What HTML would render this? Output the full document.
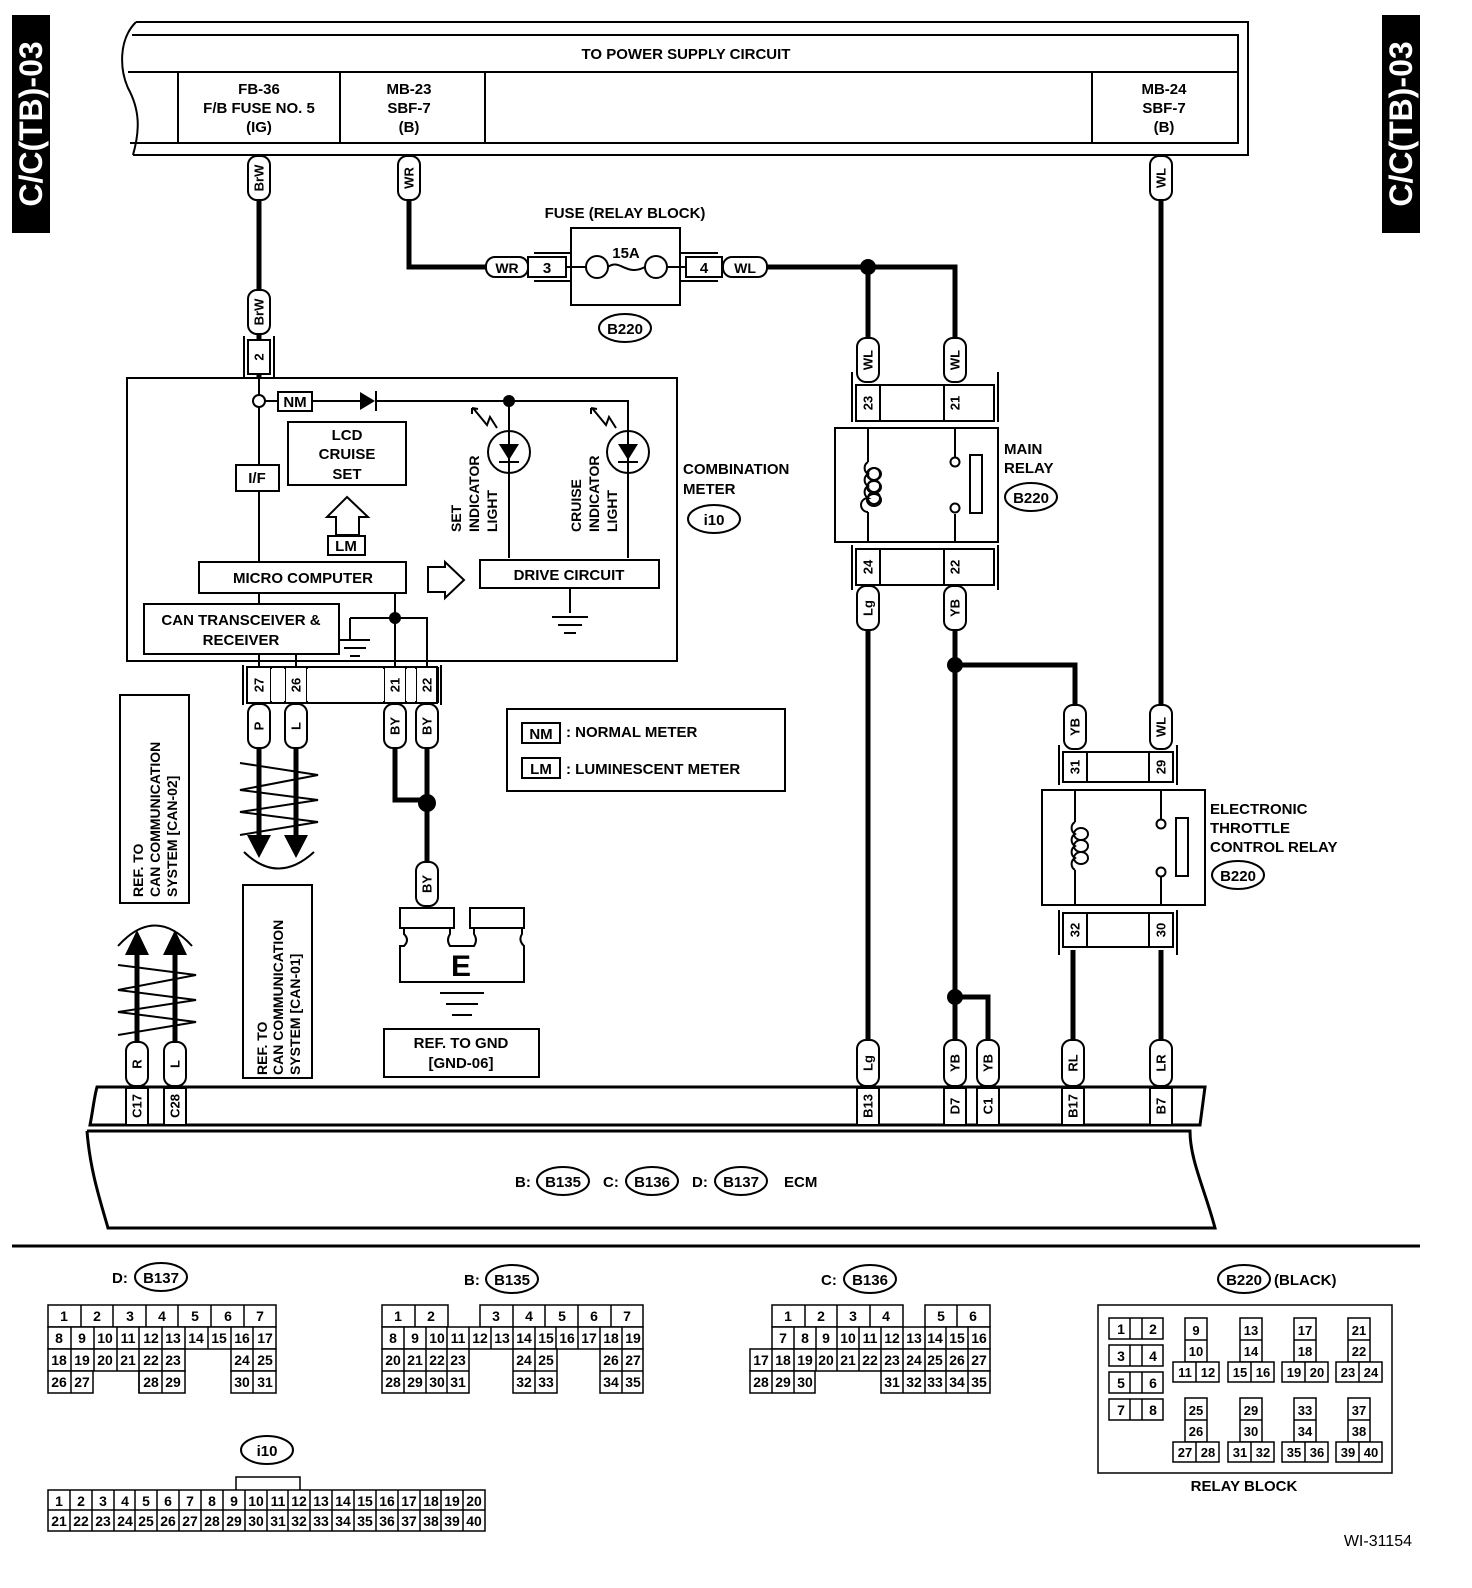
<!DOCTYPE html>
<html><head><meta charset="utf-8"><style>
html,body{margin:0;padding:0;background:#fff}
svg{display:block}
text{font-family:"Liberation Sans",Arial,sans-serif;font-weight:bold;fill:#000}
.t{font-size:15px}
.s{font-size:14px;font-weight:normal}
.w{stroke:#000;stroke-width:5;fill:none}
.n{stroke:#000;stroke-width:2;fill:none}
.p{stroke:#000;stroke-width:2;fill:#fff}
</style></head><body>
<svg width="1472" height="1588" viewBox="0 0 1472 1588" xmlns="http://www.w3.org/2000/svg">
<!-- side tabs -->
<rect x="12" y="15" width="38" height="218" fill="#000"/>
<text transform="translate(31,124) rotate(-90)" text-anchor="middle" dominant-baseline="central" style="font-size:32px;fill:#fff">C/C(TB)-03</text>
<rect x="1382" y="15" width="38" height="218" fill="#000"/>
<text transform="translate(1401,124) rotate(-90)" text-anchor="middle" dominant-baseline="central" style="font-size:32px;fill:#fff">C/C(TB)-03</text>

<!-- top power frame -->
<path class="n" d="M136,22 H1248 V155 H133 M136,22 C118,40 120,70 128,88 C140,110 140,130 133,155"/>
<path class="n" d="M132,35 H1238 V143 H130 M128,72 H1238 M178,72 V143 M340,72 V143 M485,72 V143 M1092,72 V143"/>
<text class="t" x="686" y="59" text-anchor="middle" style="font-size:15px">TO POWER SUPPLY CIRCUIT</text>
<text class="t" x="259" y="94" text-anchor="middle">FB-36</text>
<text class="t" x="259" y="113" text-anchor="middle">F/B FUSE NO. 5</text>
<text class="t" x="259" y="132" text-anchor="middle">(IG)</text>
<text class="t" x="409" y="94" text-anchor="middle">MB-23</text>
<text class="t" x="409" y="113" text-anchor="middle">SBF-7</text>
<text class="t" x="409" y="132" text-anchor="middle">(B)</text>
<text class="t" x="1164" y="94" text-anchor="middle">MB-24</text>
<text class="t" x="1164" y="113" text-anchor="middle">SBF-7</text>
<text class="t" x="1164" y="132" text-anchor="middle">(B)</text>

<!-- thick wires -->
<path class="w" d="M259,198 V290 M259,334 V378"/>
<path class="w" d="M409,198 V267 H487"/>
<path class="w" d="M765,267 H955 V340"/>
<path class="w" d="M868,267 V340"/>
<path class="w" d="M868,630 V1040"/>
<path class="w" d="M955,630 V1040 M955,665 H1075 V705 M955,997 H988 V1040"/>
<path class="w" d="M1161,198 V705"/>
<path class="w" d="M1073,950 V1040 M1161,950 V1040"/>
<path class="w" d="M395,742 V800 H427 M427,742 V862"/>
<path class="w" d="M259,748 V835 M296,748 V835 M137,940 V1042 M175,940 V1042"/>
<circle cx="868" cy="267" r="8"/><circle cx="955" cy="665" r="8"/><circle cx="955" cy="997" r="8"/><circle cx="427" cy="803" r="9"/>

<!-- vertical pills -->
<g>
<rect class="p" x="248" y="156" width="22" height="44" rx="9"/><text transform="translate(259,178) rotate(-90)" text-anchor="middle" dominant-baseline="central" style="font-size:13px">BrW</text>
<rect class="p" x="398" y="156" width="22" height="44" rx="9"/><text transform="translate(409,178) rotate(-90)" text-anchor="middle" dominant-baseline="central" style="font-size:13px">WR</text>
<rect class="p" x="1150" y="156" width="22" height="44" rx="9"/><text transform="translate(1161,178) rotate(-90)" text-anchor="middle" dominant-baseline="central" style="font-size:13px">WL</text>
<rect class="p" x="248" y="290" width="22" height="44" rx="9"/><text transform="translate(259,312) rotate(-90)" text-anchor="middle" dominant-baseline="central" style="font-size:13px">BrW</text>
<rect class="p" x="857" y="338" width="22" height="44" rx="9"/><text transform="translate(868,360) rotate(-90)" text-anchor="middle" dominant-baseline="central" style="font-size:13px">WL</text>
<rect class="p" x="944" y="338" width="22" height="44" rx="9"/><text transform="translate(955,360) rotate(-90)" text-anchor="middle" dominant-baseline="central" style="font-size:13px">WL</text>
<rect class="p" x="857" y="586" width="22" height="44" rx="9"/><text transform="translate(868,608) rotate(-90)" text-anchor="middle" dominant-baseline="central" style="font-size:13px">Lg</text>
<rect class="p" x="944" y="586" width="22" height="44" rx="9"/><text transform="translate(955,608) rotate(-90)" text-anchor="middle" dominant-baseline="central" style="font-size:13px">YB</text>
<rect class="p" x="1064" y="705" width="22" height="44" rx="9"/><text transform="translate(1075,727) rotate(-90)" text-anchor="middle" dominant-baseline="central" style="font-size:13px">YB</text>
<rect class="p" x="1150" y="705" width="22" height="44" rx="9"/><text transform="translate(1161,727) rotate(-90)" text-anchor="middle" dominant-baseline="central" style="font-size:13px">WL</text>
<rect class="p" x="248" y="704" width="22" height="44" rx="9"/><text transform="translate(259,726) rotate(-90)" text-anchor="middle" dominant-baseline="central" style="font-size:13px">P</text>
<rect class="p" x="285" y="704" width="22" height="44" rx="9"/><text transform="translate(296,726) rotate(-90)" text-anchor="middle" dominant-baseline="central" style="font-size:13px">L</text>
<rect class="p" x="384" y="704" width="22" height="44" rx="9"/><text transform="translate(395,726) rotate(-90)" text-anchor="middle" dominant-baseline="central" style="font-size:13px">BY</text>
<rect class="p" x="416" y="704" width="22" height="44" rx="9"/><text transform="translate(427,726) rotate(-90)" text-anchor="middle" dominant-baseline="central" style="font-size:13px">BY</text>
<rect class="p" x="416" y="862" width="22" height="44" rx="9"/><text transform="translate(427,884) rotate(-90)" text-anchor="middle" dominant-baseline="central" style="font-size:13px">BY</text>
<rect class="p" x="126" y="1042" width="22" height="44" rx="9"/><text transform="translate(137,1064) rotate(-90)" text-anchor="middle" dominant-baseline="central" style="font-size:13px">R</text>
<rect class="p" x="164" y="1042" width="22" height="44" rx="9"/><text transform="translate(175,1064) rotate(-90)" text-anchor="middle" dominant-baseline="central" style="font-size:13px">L</text>
<rect class="p" x="857" y="1040" width="22" height="46" rx="9"/><text transform="translate(868,1063) rotate(-90)" text-anchor="middle" dominant-baseline="central" style="font-size:13px">Lg</text>
<rect class="p" x="944" y="1040" width="22" height="46" rx="9"/><text transform="translate(955,1063) rotate(-90)" text-anchor="middle" dominant-baseline="central" style="font-size:13px">YB</text>
<rect class="p" x="977" y="1040" width="22" height="46" rx="9"/><text transform="translate(988,1063) rotate(-90)" text-anchor="middle" dominant-baseline="central" style="font-size:13px">YB</text>
<rect class="p" x="1062" y="1040" width="22" height="46" rx="9"/><text transform="translate(1073,1063) rotate(-90)" text-anchor="middle" dominant-baseline="central" style="font-size:13px">RL</text>
<rect class="p" x="1150" y="1040" width="22" height="46" rx="9"/><text transform="translate(1161,1063) rotate(-90)" text-anchor="middle" dominant-baseline="central" style="font-size:13px">LR</text>
</g>

<!-- connector 2 -->
<path class="n" d="M244,336 V378 M274,336 V378"/><rect class="p" x="248" y="340" width="22" height="34"/>
<text transform="translate(259,357) rotate(-90)" text-anchor="middle" dominant-baseline="central" style="font-size:13px">2</text>

<!-- fuse -->
<text class="t" x="625" y="218" text-anchor="middle">FUSE (RELAY BLOCK)</text>
<rect class="n" x="571" y="228" width="109" height="77"/>
<path class="n" d="M534,253 H571 M534,281 H571 M680,253 H718 M680,281 H718"/>
<rect class="p" x="528" y="257" width="38" height="20"/><text class="t" x="547" y="273" text-anchor="middle">3</text>
<rect class="p" x="686" y="257" width="36" height="20"/><text class="t" x="704" y="273" text-anchor="middle">4</text>
<rect class="p" x="486" y="257" width="42" height="20" rx="9"/><text x="507" y="273" text-anchor="middle" style="font-size:14px">WR</text>
<rect class="p" x="723" y="257" width="44" height="20" rx="9"/><text x="745" y="273" text-anchor="middle" style="font-size:14px">WL</text>
<path class="n" d="M566,267 H586 M608,267 C620,258 626,277 645,267 M667,267 H686"/>
<circle class="p" cx="597" cy="267" r="11"/><circle class="p" cx="656" cy="267" r="11"/>
<text class="t" x="626" y="258" text-anchor="middle">15A</text>
<ellipse class="n" cx="625" cy="328" rx="26" ry="14"/><text class="t" x="625" y="334" text-anchor="middle">B220</text>

<!-- main relay -->
<path class="n" d="M852,372 V422 M998,372 V422 M852,545 V590 M998,545 V590"/>
<rect class="p" x="856" y="385" width="138" height="36"/><path class="n" d="M880,385 V421 M944,385 V421"/>
<text transform="translate(868,403) rotate(-90)" text-anchor="middle" dominant-baseline="central" style="font-size:13px">23</text>
<text transform="translate(955,403) rotate(-90)" text-anchor="middle" dominant-baseline="central" style="font-size:13px">21</text>
<rect class="n" x="835" y="428" width="163" height="114"/>
<rect class="p" x="856" y="549" width="138" height="36"/><path class="n" d="M880,549 V585 M944,549 V585"/>
<text transform="translate(868,567) rotate(-90)" text-anchor="middle" dominant-baseline="central" style="font-size:13px">24</text>
<text transform="translate(955,567) rotate(-90)" text-anchor="middle" dominant-baseline="central" style="font-size:13px">22</text>
<path class="n" d="M868,428 V462 M868,512 V542 M868,462 a7,7 0 0 0 0,12 a7,7 0 0 0 0,12 a7,7 0 0 0 0,12 a7,7 0 0 0 0,14"/>
<path class="n" d="M868,474 a6,6 0 1 1 0,0.1 M868,486 a6,6 0 1 1 0,0.1 M868,498 a6,6 0 1 1 0,0.1"/>
<ellipse class="n" cx="874" cy="474" rx="7" ry="6"/><ellipse class="n" cx="874" cy="487" rx="7" ry="6"/><ellipse class="n" cx="874" cy="500" rx="7" ry="6"/>
<path class="n" d="M955,428 V457 M955,514 V542"/><circle class="p" cx="955" cy="462" r="4.5"/><circle class="p" cx="955" cy="508" r="4.5"/>
<rect class="n" x="970" y="455" width="12" height="58"/>
<text class="t" x="1004" y="454">MAIN</text><text class="t" x="1004" y="473">RELAY</text>
<ellipse class="n" cx="1031" cy="497" rx="26" ry="14"/><text class="t" x="1031" y="503" text-anchor="middle">B220</text>

<!-- ETC relay -->
<path class="n" d="M1059,745 V785 M1177,745 V785 M1059,910 V955 M1177,910 V955"/>
<rect class="p" x="1063" y="752" width="110" height="30"/><path class="n" d="M1087,752 V782 M1149,752 V782"/>
<text transform="translate(1075,767) rotate(-90)" text-anchor="middle" dominant-baseline="central" style="font-size:13px">31</text>
<text transform="translate(1161,767) rotate(-90)" text-anchor="middle" dominant-baseline="central" style="font-size:13px">29</text>
<rect class="n" x="1042" y="790" width="163" height="115"/>
<rect class="p" x="1063" y="913" width="110" height="34"/><path class="n" d="M1087,913 V947 M1149,913 V947"/>
<text transform="translate(1075,930) rotate(-90)" text-anchor="middle" dominant-baseline="central" style="font-size:13px">32</text>
<text transform="translate(1161,930) rotate(-90)" text-anchor="middle" dominant-baseline="central" style="font-size:13px">30</text>
<path class="n" d="M1075,790 V822 M1075,870 V905 M1075,822 a7,7 0 0 0 0,12 a7,7 0 0 0 0,12 a7,7 0 0 0 0,12 a7,7 0 0 0 0,12"/>
<ellipse class="n" cx="1081" cy="834" rx="7" ry="6"/><ellipse class="n" cx="1081" cy="846" rx="7" ry="6"/><ellipse class="n" cx="1081" cy="858" rx="7" ry="6"/>
<path class="n" d="M1161,790 V819 M1161,877 V905"/><circle class="p" cx="1161" cy="824" r="4.5"/><circle class="p" cx="1161" cy="872" r="4.5"/>
<rect class="n" x="1176" y="818" width="12" height="58"/>
<text class="t" x="1210" y="814">ELECTRONIC</text><text class="t" x="1210" y="833">THROTTLE</text><text class="t" x="1210" y="852">CONTROL RELAY</text>
<ellipse class="n" cx="1238" cy="875" rx="26" ry="14"/><text class="t" x="1238" y="881" text-anchor="middle">B220</text>

<!-- combination meter -->
<rect class="n" x="127" y="378" width="550" height="283"/>
<path class="n" d="M259,378 V395 M259,407 V465 M259,491 V562"/>
<circle class="p" cx="259" cy="401" r="6"/>
<path class="n" d="M265,401 H278 M312,401 H360 M375,401 H628 V558 M509,401 V558"/>
<rect class="p" x="278" y="392" width="34" height="19"/><text class="t" x="295" y="407" text-anchor="middle">NM</text>
<path d="M360,392 L375,401 L360,410 Z"/><path class="n" d="M376,391 V411"/>
<circle cx="509" cy="401" r="6"/>
<rect class="n" x="288" y="422" width="118" height="63"/>
<text class="t" x="347" y="440" text-anchor="middle">LCD</text><text class="t" x="347" y="459" text-anchor="middle">CRUISE</text><text class="t" x="347" y="479" text-anchor="middle">SET</text>
<rect class="p" x="236" y="465" width="43" height="26"/><text class="t" x="257" y="483" text-anchor="middle">I/F</text>
<path class="n" d="M347,497 L368,517 H359 V535 H336 V517 H327 Z"/>
<rect class="p" x="328" y="536" width="37" height="19"/><text class="t" x="346" y="551" text-anchor="middle">LM</text>
<rect class="n" x="199" y="562" width="207" height="31"/><text class="t" x="303" y="583" text-anchor="middle">MICRO COMPUTER</text>
<path class="n" d="M428,567 H445 V562 L464,580 L445,598 V592 H428 Z"/>
<rect class="n" x="480" y="560" width="179" height="28"/><text class="t" x="569" y="580" text-anchor="middle">DRIVE CIRCUIT</text>
<path class="n" d="M570,588 V613 M552,617 H588 M558,625 H582 M564,633 H576"/>
<circle class="n" cx="509" cy="452" r="21"/><circle class="n" cx="628" cy="452" r="21"/>
<path d="M499,444 H519 L509,460 Z M618,444 H638 L628,460 Z"/><path class="n" d="M499,462 H519 M618,462 H638"/>
<path class="n" d="M473,408 L487,425 L490,417 L497,428 M472,408 L478,409 M472,408 L472,414 M592,408 L606,425 L609,417 L616,428 M591,408 L597,409 M591,408 L591,414"/>
<text transform="translate(456,532) rotate(-90)" dominant-baseline="central" style="font-size:14px">SET</text>
<text transform="translate(474,532) rotate(-90)" dominant-baseline="central" style="font-size:14px">INDICATOR</text>
<text transform="translate(492,532) rotate(-90)" dominant-baseline="central" style="font-size:14px">LIGHT</text>
<text transform="translate(576,532) rotate(-90)" dominant-baseline="central" style="font-size:14px">CRUISE</text>
<text transform="translate(594,532) rotate(-90)" dominant-baseline="central" style="font-size:14px">INDICATOR</text>
<text transform="translate(612,532) rotate(-90)" dominant-baseline="central" style="font-size:14px">LIGHT</text>
<rect class="n" x="144" y="604" width="195" height="50"/>
<text class="t" x="241" y="625" text-anchor="middle">CAN TRANSCEIVER &amp;</text><text class="t" x="241" y="645" text-anchor="middle">RECEIVER</text>
<path class="n" d="M259,593 V604 M259,654 V667 M296,654 V667 M395,593 V667 M427,667 V618 H395 M350,618 H395 M350,618 V640 M340,640 H370 M344,648 H366 M350,656 H360"/>
<circle cx="395" cy="618" r="6"/>
<text class="t" x="683" y="474">COMBINATION</text><text class="t" x="683" y="494">METER</text>
<ellipse class="n" cx="714" cy="519" rx="26" ry="14"/><text class="t" x="714" y="525" text-anchor="middle">i10</text>

<!-- meter connector -->
<path class="n" d="M243,665 V705 M441,665 V705"/>
<rect class="p" x="247" y="667" width="190" height="36"/>
<path class="n" d="M247,667 V703 M271,667 V703 M285,667 V703 M307,667 V703 M384,667 V703 M406,667 V703 M416,667 V703 M438,667 V703"/>
<rect x="271" y="669" width="14" height="32" fill="#fff"/><rect x="307" y="669" width="77" height="32" fill="#fff"/><rect x="406" y="669" width="10" height="32" fill="#fff"/>
<text transform="translate(259,685) rotate(-90)" text-anchor="middle" dominant-baseline="central" style="font-size:13px">27</text>
<text transform="translate(296,685) rotate(-90)" text-anchor="middle" dominant-baseline="central" style="font-size:13px">26</text>
<text transform="translate(395,685) rotate(-90)" text-anchor="middle" dominant-baseline="central" style="font-size:13px">21</text>
<text transform="translate(427,685) rotate(-90)" text-anchor="middle" dominant-baseline="central" style="font-size:13px">22</text>

<!-- twisted pair down -->
<path class="n" d="M240,763 L318,775 L240,790 L318,800 L240,812 L318,822 L240,835"/>
<path d="M247,835 H271 L259,858 Z M284,835 H308 L296,858 Z"/>
<path class="n" d="M244,852 Q278,885 314,852"/>
<rect class="n" x="243" y="885" width="69" height="193"/>
<text transform="translate(262,1075) rotate(-90)" dominant-baseline="central" style="font-size:14px">REF. TO</text>
<text transform="translate(278,1075) rotate(-90)" dominant-baseline="central" style="font-size:14px">CAN COMMUNICATION</text>
<text transform="translate(295,1075) rotate(-90)" dominant-baseline="central" style="font-size:14px">SYSTEM [CAN-01]</text>
<!-- twisted pair up -->
<path class="n" d="M118,946 Q155,905 192,946"/>
<path d="M125,955 H149 L137,930 Z M163,955 H187 L175,930 Z"/>
<path class="n" d="M118,965 L196,975 L118,990 L196,1000 L118,1012 L196,1022 L118,1035"/>
<rect class="n" x="120" y="695" width="69" height="208"/>
<text transform="translate(138,897) rotate(-90)" dominant-baseline="central" style="font-size:14px">REF. TO</text>
<text transform="translate(155,897) rotate(-90)" dominant-baseline="central" style="font-size:14px">CAN COMMUNICATION</text>
<text transform="translate(172,897) rotate(-90)" dominant-baseline="central" style="font-size:14px">SYSTEM [CAN-02]</text>

<!-- ground E -->
<rect class="n" x="400" y="908" width="54" height="20"/><rect class="n" x="470" y="908" width="54" height="20"/>
<path class="n" d="M404,928 V934 Q410,940 404,946 H400 V982 H524 V946 Q518,940 522,934 V928 M450,928 V934 Q446,940 450,946 H474 Q478,940 474,934 V928"/>
<text x="461" y="976" text-anchor="middle" style="font-size:30px">E</text>
<path class="n" d="M440,993 H484 M446,1004 H478 M452,1015 H472"/>
<rect class="n" x="384" y="1029" width="155" height="48"/>
<text class="t" x="461" y="1048" text-anchor="middle">REF. TO GND</text><text class="t" x="461" y="1068" text-anchor="middle">[GND-06]</text>

<!-- legend -->
<rect class="n" x="507" y="709" width="278" height="82"/>
<rect class="p" x="522" y="723" width="38" height="20"/><text class="t" x="541" y="739" text-anchor="middle">NM</text>
<text class="t" x="566" y="737">: NORMAL METER</text>
<rect class="p" x="522" y="758" width="38" height="20"/><text class="t" x="541" y="774" text-anchor="middle">LM</text>
<text class="t" x="566" y="774">: LUMINESCENT METER</text>

<!-- ECM -->
<path class="n" d="M97,1087 H1205 L1200,1125 H90 C93,1110 94,1098 97,1087 Z" style="stroke-width:3"/>
<path class="n" d="M87,1131 H1190 C1190,1160 1205,1190 1215,1228 H108 C100,1200 90,1170 87,1131" style="stroke-width:3"/>
<g>
<rect class="p" x="126" y="1088" width="22" height="37"/><text transform="translate(137,1106) rotate(-90)" text-anchor="middle" dominant-baseline="central" style="font-size:13px">C17</text>
<rect class="p" x="164" y="1088" width="22" height="37"/><text transform="translate(175,1106) rotate(-90)" text-anchor="middle" dominant-baseline="central" style="font-size:13px">C28</text>
<rect class="p" x="857" y="1088" width="22" height="37"/><text transform="translate(868,1106) rotate(-90)" text-anchor="middle" dominant-baseline="central" style="font-size:13px">B13</text>
<rect class="p" x="944" y="1088" width="22" height="37"/><text transform="translate(955,1106) rotate(-90)" text-anchor="middle" dominant-baseline="central" style="font-size:13px">D7</text>
<rect class="p" x="977" y="1088" width="22" height="37"/><text transform="translate(988,1106) rotate(-90)" text-anchor="middle" dominant-baseline="central" style="font-size:13px">C1</text>
<rect class="p" x="1062" y="1088" width="22" height="37"/><text transform="translate(1073,1106) rotate(-90)" text-anchor="middle" dominant-baseline="central" style="font-size:13px">B17</text>
<rect class="p" x="1150" y="1088" width="22" height="37"/><text transform="translate(1161,1106) rotate(-90)" text-anchor="middle" dominant-baseline="central" style="font-size:13px">B7</text>
</g>
<text class="t" x="515" y="1187">B:</text>
<ellipse class="n" cx="563" cy="1181" rx="26" ry="14"/><text class="t" x="563" y="1187" text-anchor="middle">B135</text>
<text class="t" x="603" y="1187">C:</text>
<ellipse class="n" cx="652" cy="1181" rx="26" ry="14"/><text class="t" x="652" y="1187" text-anchor="middle">B136</text>
<text class="t" x="692" y="1187">D:</text>
<ellipse class="n" cx="741" cy="1181" rx="26" ry="14"/><text class="t" x="741" y="1187" text-anchor="middle">B137</text>
<text class="t" x="784" y="1187">ECM</text>

<line x1="12" y1="1246" x2="1420" y2="1246" stroke="#000" stroke-width="3"/>

<!-- connector headers -->
<text class="t" x="112" y="1283">D:</text><ellipse class="n" cx="161" cy="1277" rx="26" ry="14"/><text class="t" x="161" y="1283" text-anchor="middle">B137</text>
<text class="t" x="464" y="1285">B:</text><ellipse class="n" cx="512" cy="1279" rx="26" ry="14"/><text class="t" x="512" y="1285" text-anchor="middle">B135</text>
<text class="t" x="821" y="1285">C:</text><ellipse class="n" cx="870" cy="1279" rx="26" ry="14"/><text class="t" x="870" y="1285" text-anchor="middle">B136</text>
<ellipse class="n" cx="1244" cy="1279" rx="26" ry="14"/><text class="t" x="1244" y="1285" text-anchor="middle">B220</text><text class="t" x="1274" y="1285">(BLACK)</text>
<ellipse class="n" cx="267" cy="1450" rx="26" ry="14"/><text class="t" x="267" y="1456" text-anchor="middle">i10</text>

<g class="s" style="font-size:14px" text-anchor="middle">
<!-- D:B137 ; row1 w32.6, rows2-4 w22.8 -->
<g fill="#fff" stroke="#000" stroke-width="1.5">
<rect x="48" y="1305" width="228" height="22"/>
<rect x="48" y="1327" width="228" height="22"/>
<rect x="48" y="1349" width="137" height="22"/><rect x="231" y="1349" width="45" height="22"/>
<rect x="48" y="1371" width="45" height="22"/><rect x="139" y="1371" width="46" height="22"/><rect x="231" y="1371" width="45" height="22"/>
</g>
<path stroke="#000" stroke-width="1.5" d="M81,1305V1327M113,1305V1327M146,1305V1327M178,1305V1327M211,1305V1327M244,1305V1327 M71,1327V1393M94,1327V1371M117,1327V1371M139,1327V1393M162,1327V1393M185,1327V1349M208,1327V1349M231,1327V1349M253,1327V1393"/>
<text x="64" y="1321">1</text><text x="97" y="1321">2</text><text x="130" y="1321">3</text><text x="162" y="1321">4</text><text x="195" y="1321">5</text><text x="228" y="1321">6</text><text x="260" y="1321">7</text>
<text x="59" y="1343">8</text><text x="82" y="1343">9</text><text x="105" y="1343">10</text><text x="128" y="1343">11</text><text x="151" y="1343">12</text><text x="173" y="1343">13</text><text x="196" y="1343">14</text><text x="219" y="1343">15</text><text x="242" y="1343">16</text><text x="265" y="1343">17</text>
<text x="59" y="1365">18</text><text x="82" y="1365">19</text><text x="105" y="1365">20</text><text x="128" y="1365">21</text><text x="151" y="1365">22</text><text x="173" y="1365">23</text><text x="242" y="1365">24</text><text x="265" y="1365">25</text>
<text x="59" y="1387">26</text><text x="82" y="1387">27</text><text x="151" y="1387">28</text><text x="173" y="1387">29</text><text x="242" y="1387">30</text><text x="265" y="1387">31</text>

<!-- B:B135 x382..643, w21.75 -->
<g fill="#fff" stroke="#000" stroke-width="1.5">
<rect x="382" y="1305" width="66" height="22"/><rect x="480" y="1305" width="163" height="22"/>
<rect x="382" y="1327" width="261" height="22"/>
<rect x="382" y="1349" width="87" height="44"/><rect x="513" y="1349" width="44" height="44"/><rect x="600" y="1349" width="43" height="44"/>
</g>
<path stroke="#000" stroke-width="1.5" d="M415,1305V1327M513,1305V1327M545,1305V1327M578,1305V1327M611,1305V1327 M404,1327V1393M426,1327V1393M447,1327V1393M469,1327V1349M491,1327V1349M513,1327V1349M535,1327V1393M556,1327V1349M578,1327V1349M600,1327V1349M622,1327V1393 M382,1371H469M513,1371H557M600,1371H643"/>
<text x="398" y="1321">1</text><text x="431" y="1321">2</text><text x="496" y="1321">3</text><text x="529" y="1321">4</text><text x="562" y="1321">5</text><text x="594" y="1321">6</text><text x="627" y="1321">7</text>
<text x="393" y="1343">8</text><text x="415" y="1343">9</text><text x="437" y="1343">10</text><text x="458" y="1343">11</text><text x="480" y="1343">12</text><text x="502" y="1343">13</text><text x="524" y="1343">14</text><text x="546" y="1343">15</text><text x="567" y="1343">16</text><text x="589" y="1343">17</text><text x="611" y="1343">18</text><text x="633" y="1343">19</text>
<text x="393" y="1365">20</text><text x="415" y="1365">21</text><text x="437" y="1365">22</text><text x="458" y="1365">23</text><text x="524" y="1365">24</text><text x="546" y="1365">25</text><text x="611" y="1365">26</text><text x="633" y="1365">27</text>
<text x="393" y="1387">28</text><text x="415" y="1387">29</text><text x="437" y="1387">30</text><text x="458" y="1387">31</text><text x="524" y="1387">32</text><text x="546" y="1387">33</text><text x="611" y="1387">34</text><text x="633" y="1387">35</text>

<!-- C:B136 x750..990 w21.8 -->
<g fill="#fff" stroke="#000" stroke-width="1.5">
<rect x="772" y="1305" width="131" height="22"/><rect x="925" y="1305" width="65" height="22"/>
<rect x="772" y="1327" width="218" height="22"/>
<rect x="750" y="1349" width="240" height="22"/>
<rect x="750" y="1371" width="65" height="22"/><rect x="881" y="1371" width="109" height="22"/>
</g>
<path stroke="#000" stroke-width="1.5" d="M805,1305V1327M837,1305V1327M870,1305V1327M957,1305V1327 M794,1327V1371M816,1327V1371M837,1327V1371M859,1327V1371M881,1327V1371M903,1327V1393M925,1327V1393M946,1327V1393M968,1327V1393 M772,1349V1393M794,1371V1393"/>
<text x="788" y="1321">1</text><text x="821" y="1321">2</text><text x="853" y="1321">3</text><text x="886" y="1321">4</text><text x="941" y="1321">5</text><text x="973" y="1321">6</text>
<text x="783" y="1343">7</text><text x="805" y="1343">8</text><text x="826" y="1343">9</text><text x="848" y="1343">10</text><text x="870" y="1343">11</text><text x="892" y="1343">12</text><text x="914" y="1343">13</text><text x="935" y="1343">14</text><text x="957" y="1343">15</text><text x="979" y="1343">16</text>
<text x="761" y="1365">17</text><text x="783" y="1365">18</text><text x="805" y="1365">19</text><text x="826" y="1365">20</text><text x="848" y="1365">21</text><text x="870" y="1365">22</text><text x="892" y="1365">23</text><text x="914" y="1365">24</text><text x="935" y="1365">25</text><text x="957" y="1365">26</text><text x="979" y="1365">27</text>
<text x="761" y="1387">28</text><text x="783" y="1387">29</text><text x="805" y="1387">30</text><text x="892" y="1387">31</text><text x="914" y="1387">32</text><text x="935" y="1387">33</text><text x="957" y="1387">34</text><text x="979" y="1387">35</text>

<!-- i10 x48..485 w21.85 -->
<path stroke="#000" stroke-width="1.5" fill="none" d="M236,1490V1477H300V1490"/>
<rect x="48" y="1490" width="437" height="41" fill="#fff" stroke="#000" stroke-width="1.5"/>
<path stroke="#000" stroke-width="1.5" d="M48,1510H485 M70,1490V1531M92,1490V1531M114,1490V1531M135,1490V1531M157,1490V1531M179,1490V1531M201,1490V1531M223,1490V1531M245,1490V1531M267,1490V1531M288,1490V1531M310,1490V1531M332,1490V1531M354,1490V1531M376,1490V1531M398,1490V1531M420,1490V1531M441,1490V1531M463,1490V1531"/>
<text x="59" y="1506">1</text><text x="81" y="1506">2</text><text x="103" y="1506">3</text><text x="125" y="1506">4</text><text x="146" y="1506">5</text><text x="168" y="1506">6</text><text x="190" y="1506">7</text><text x="212" y="1506">8</text><text x="234" y="1506">9</text><text x="256" y="1506">10</text><text x="278" y="1506">11</text><text x="299" y="1506">12</text><text x="321" y="1506">13</text><text x="343" y="1506">14</text><text x="365" y="1506">15</text><text x="387" y="1506">16</text><text x="409" y="1506">17</text><text x="431" y="1506">18</text><text x="452" y="1506">19</text><text x="474" y="1506">20</text>
<text x="59" y="1526">21</text><text x="81" y="1526">22</text><text x="103" y="1526">23</text><text x="125" y="1526">24</text><text x="146" y="1526">25</text><text x="168" y="1526">26</text><text x="190" y="1526">27</text><text x="212" y="1526">28</text><text x="234" y="1526">29</text><text x="256" y="1526">30</text><text x="278" y="1526">31</text><text x="299" y="1526">32</text><text x="321" y="1526">33</text><text x="343" y="1526">34</text><text x="365" y="1526">35</text><text x="387" y="1526">36</text><text x="409" y="1526">37</text><text x="431" y="1526">38</text><text x="452" y="1526">39</text><text x="474" y="1526">40</text>

<!-- relay block B220 -->
<rect x="1098" y="1305" width="294" height="168" fill="none" stroke="#000" stroke-width="1.5"/>
<g fill="#fff" stroke="#000" stroke-width="1.5">
<rect x="1109" y="1318" width="54" height="21"/><rect x="1109" y="1345" width="54" height="21"/><rect x="1109" y="1372" width="54" height="21"/><rect x="1109" y="1399" width="54" height="21"/>
</g>
<path stroke="#000" stroke-width="1.5" d="M1130,1318V1339M1142,1318V1339M1130,1345V1366M1142,1345V1366M1130,1372V1393M1142,1372V1393M1130,1399V1420M1142,1399V1420"/>
<text x="1121" y="1334">1</text><text x="1153" y="1334">2</text><text x="1121" y="1361">3</text><text x="1153" y="1361">4</text><text x="1121" y="1388">5</text><text x="1153" y="1388">6</text><text x="1121" y="1415">7</text><text x="1153" y="1415">8</text>
<g fill="#fff" stroke="#000" stroke-width="1.5">
<rect x="1185" y="1318" width="22" height="44"/><rect x="1173" y="1362" width="46" height="20"/>
<rect x="1240" y="1318" width="22" height="44"/><rect x="1228" y="1362" width="46" height="20"/>
<rect x="1294" y="1318" width="22" height="44"/><rect x="1282" y="1362" width="46" height="20"/>
<rect x="1348" y="1318" width="22" height="44"/><rect x="1336" y="1362" width="46" height="20"/>
<rect x="1185" y="1398" width="22" height="44"/><rect x="1173" y="1442" width="46" height="20"/>
<rect x="1240" y="1398" width="22" height="44"/><rect x="1228" y="1442" width="46" height="20"/>
<rect x="1294" y="1398" width="22" height="44"/><rect x="1282" y="1442" width="46" height="20"/>
<rect x="1348" y="1398" width="22" height="44"/><rect x="1336" y="1442" width="46" height="20"/>
</g>
<path stroke="#000" stroke-width="1.5" d="M1185,1340H1207M1240,1340H1262M1294,1340H1316M1348,1340H1370M1185,1420H1207M1240,1420H1262M1294,1420H1316M1348,1420H1370 M1196,1362V1382M1251,1362V1382M1305,1362V1382M1359,1362V1382M1196,1442V1462M1251,1442V1462M1305,1442V1462M1359,1442V1462"/>
<g style="font-size:13px">
<text x="1196" y="1335">9</text><text x="1196" y="1356">10</text><text x="1185" y="1377">11</text><text x="1208" y="1377">12</text>
<text x="1251" y="1335">13</text><text x="1251" y="1356">14</text><text x="1240" y="1377">15</text><text x="1263" y="1377">16</text>
<text x="1305" y="1335">17</text><text x="1305" y="1356">18</text><text x="1294" y="1377">19</text><text x="1317" y="1377">20</text>
<text x="1359" y="1335">21</text><text x="1359" y="1356">22</text><text x="1348" y="1377">23</text><text x="1371" y="1377">24</text>
<text x="1196" y="1415">25</text><text x="1196" y="1436">26</text><text x="1185" y="1457">27</text><text x="1208" y="1457">28</text>
<text x="1251" y="1415">29</text><text x="1251" y="1436">30</text><text x="1240" y="1457">31</text><text x="1263" y="1457">32</text>
<text x="1305" y="1415">33</text><text x="1305" y="1436">34</text><text x="1294" y="1457">35</text><text x="1317" y="1457">36</text>
<text x="1359" y="1415">37</text><text x="1359" y="1436">38</text><text x="1348" y="1457">39</text><text x="1371" y="1457">40</text>
</g>
</g>
<text class="t" x="1244" y="1491" text-anchor="middle">RELAY BLOCK</text>
<text x="1412" y="1546" text-anchor="end" style="font-size:16px;font-weight:normal">WI-31154</text>
</svg>
</body></html>
